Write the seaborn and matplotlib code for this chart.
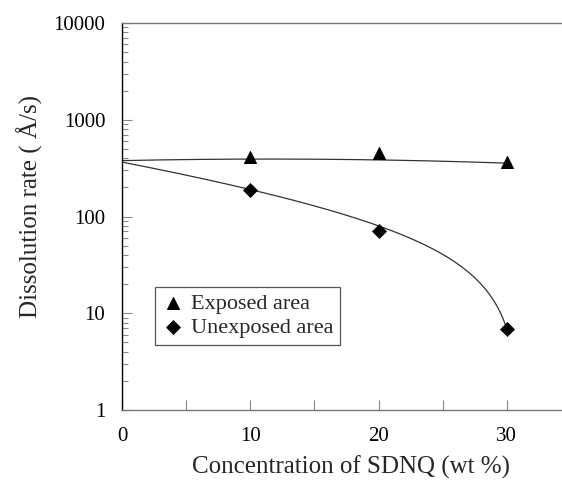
import numpy as np
import matplotlib
matplotlib.use("Agg")
import matplotlib.pyplot as plt
import seaborn as sns
from matplotlib.ticker import LogLocator, FixedLocator, NullFormatter

sns.set_theme(style="white")
plt.rcParams['font.family'] = ['Liberation Serif', 'DejaVu Serif']

conc = [10, 20, 30]
exposed = [417, 454, 369]
unexposed = [188, 71, 6.9]

# trend lines
exposed_trend_x = [0, 15, 30]
exposed_trend_y = [378, 391, 356]
unexposed_trend_x = [0, 10, 20, 30]
unexposed_trend_y = [365, 190, 80, 6.9]

fig = plt.figure(figsize=(5.62, 4.84), dpi=100)
ax = fig.add_axes([122/562, 1-410/484, 1-122/562, (410-23)/484])

sns.scatterplot(x=conc, y=exposed, marker='^', s=75, color='black', edgecolor='black',
                ax=ax, label='Exposed area', zorder=3)
sns.scatterplot(x=conc, y=unexposed, marker='D', s=50, color='black', edgecolor='black',
                ax=ax, label='Unexposed area', zorder=3)

xs = np.linspace(0, 30, 300)
ce = np.polyfit(exposed_trend_x, np.log10(exposed_trend_y), 2)
ax.plot(xs, 10**np.polyval(ce, xs), color='#333333', lw=0.9, zorder=2)
cu = np.polyfit(unexposed_trend_x, unexposed_trend_y, 3)
ax.plot(xs, np.polyval(cu, xs), color='#333333', lw=0.9, zorder=2)

ax.set_yscale('log')
ax.set_ylim(1, 10000)
ax.set_xlim(0, 34.3)
ax.set_xticks([0, 10, 20, 30])
ax.xaxis.set_minor_locator(FixedLocator([5, 15, 25]))
ax.yaxis.set_minor_locator(LogLocator(base=10, subs=np.arange(2, 10), numticks=10))
ax.yaxis.set_minor_formatter(NullFormatter())
ax.set_yticks([1, 10, 100, 1000, 10000])
ax.set_yticklabels(['1', '10', '100', '1000', '10000'])

ax.tick_params(axis='both', which='both', direction='in', labelsize=15, colors='#888888',
               labelcolor='black')
ax.tick_params(axis='y', which='major', length=7, width=0.8, pad=12)
ax.tick_params(axis='y', which='minor', length=4, width=0.8)
ax.tick_params(axis='x', which='both', length=7, width=0.8, pad=12)
ax.yaxis.set_ticks_position('left')
ax.xaxis.set_ticks_position('bottom')

ax.spines['left'].set_color('black')
ax.spines['left'].set_linewidth(1.0)
ax.spines['bottom'].set_color('#777777')
ax.spines['bottom'].set_linewidth(1.0)
ax.spines['top'].set_color('#777777')
ax.spines['top'].set_linewidth(1.0)
ax.spines['right'].set_visible(False)

ax.set_xlabel('Concentration of SDNQ (wt %)', fontsize=18)
ax.set_ylabel('Dissolution rate ( Å/s)', fontsize=18)
ax.xaxis.set_label_coords((351-122)/440, -(467-410)/387, transform=ax.transAxes)
ax.yaxis.set_label_coords(-(122-30)/440, (410-207)/387, transform=ax.transAxes)
ax.xaxis.label.set_va('center')
ax.yaxis.label.set_va('center')

leg = ax.legend(loc='upper left', bbox_to_anchor=((155-122)/440, 1-(287-23)/387),
                borderaxespad=0, fontsize=16, frameon=True, fancybox=False, framealpha=1,
                edgecolor='#555555', handletextpad=0.3, borderpad=0.3,
                labelspacing=0.15, handlelength=1.0)
leg.get_frame().set_linewidth(0.9)

fig.savefig('out.png', dpi=100)
